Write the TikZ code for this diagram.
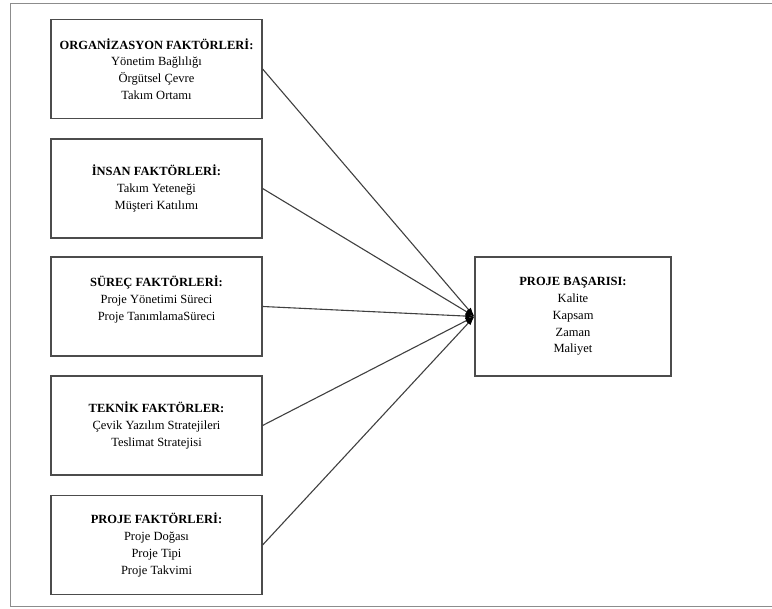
\documentclass[tikz,border=0pt]{standalone}
\usepackage{fontspec}
\setmainfont{Liberation Serif}
\usetikzlibrary{arrows.meta}
\begin{document}
\begin{tikzpicture}[x=1pt,y=1pt,
  factorbox/.style={draw=black!70, line width=1.2pt, minimum width=211pt, minimum height=99pt,
    inner sep=0pt, align=center, font=\fontsize{12.5}{16.8}\selectfont},
  link/.style={draw=black!75, line width=1.1pt, -{Latex[length=9pt,width=6pt,black]}}]
\useasboundingbox (0,0) rectangle (772,609);
\draw[black!45, line width=1pt] (772,605) -- (10,605) -- (10,2) -- (772,2);
\node[factorbox] (org) at (156.5,540) {\textbf{ORGANİZASYON FAKTÖRLERİ:}\\Yönetim Bağlılığı\\Örgütsel Çevre\\Takım Ortamı};
\node[factorbox] (ins) at (156.5,420.5) {\textbf{İNSAN FAKTÖRLERİ:}\\Takım Yeteneği\\Müşteri Katılımı};
\node[factorbox] (sur) at (156.5,302.5) {\textbf{SÜREÇ FAKTÖRLERİ:}\\Proje Yönetimi Süreci\\Proje TanımlamaSüreci\\\mbox{}};
\node[factorbox] (tek) at (156.5,183.5) {\textbf{TEKNİK FAKTÖRLER:}\\Çevik Yazılım Stratejileri\\Teslimat Stratejisi};
\node[factorbox] (prj) at (156.5,64) {\textbf{PROJE FAKTÖRLERİ:}\\Proje Doğası\\Proje Tipi\\Proje Takvimi};
\node[factorbox, minimum width=196pt, minimum height=119pt] (bas) at (573,292.5) {\textbf{PROJE BAŞARISI:}\\Kalite\\Kapsam\\Zaman\\Maliyet};
\coordinate (hub) at (bas.west);
\foreach \n in {org,ins,sur,tek,prj} \draw[link] (\n.east) -- (hub);
\end{tikzpicture}
\end{document}
